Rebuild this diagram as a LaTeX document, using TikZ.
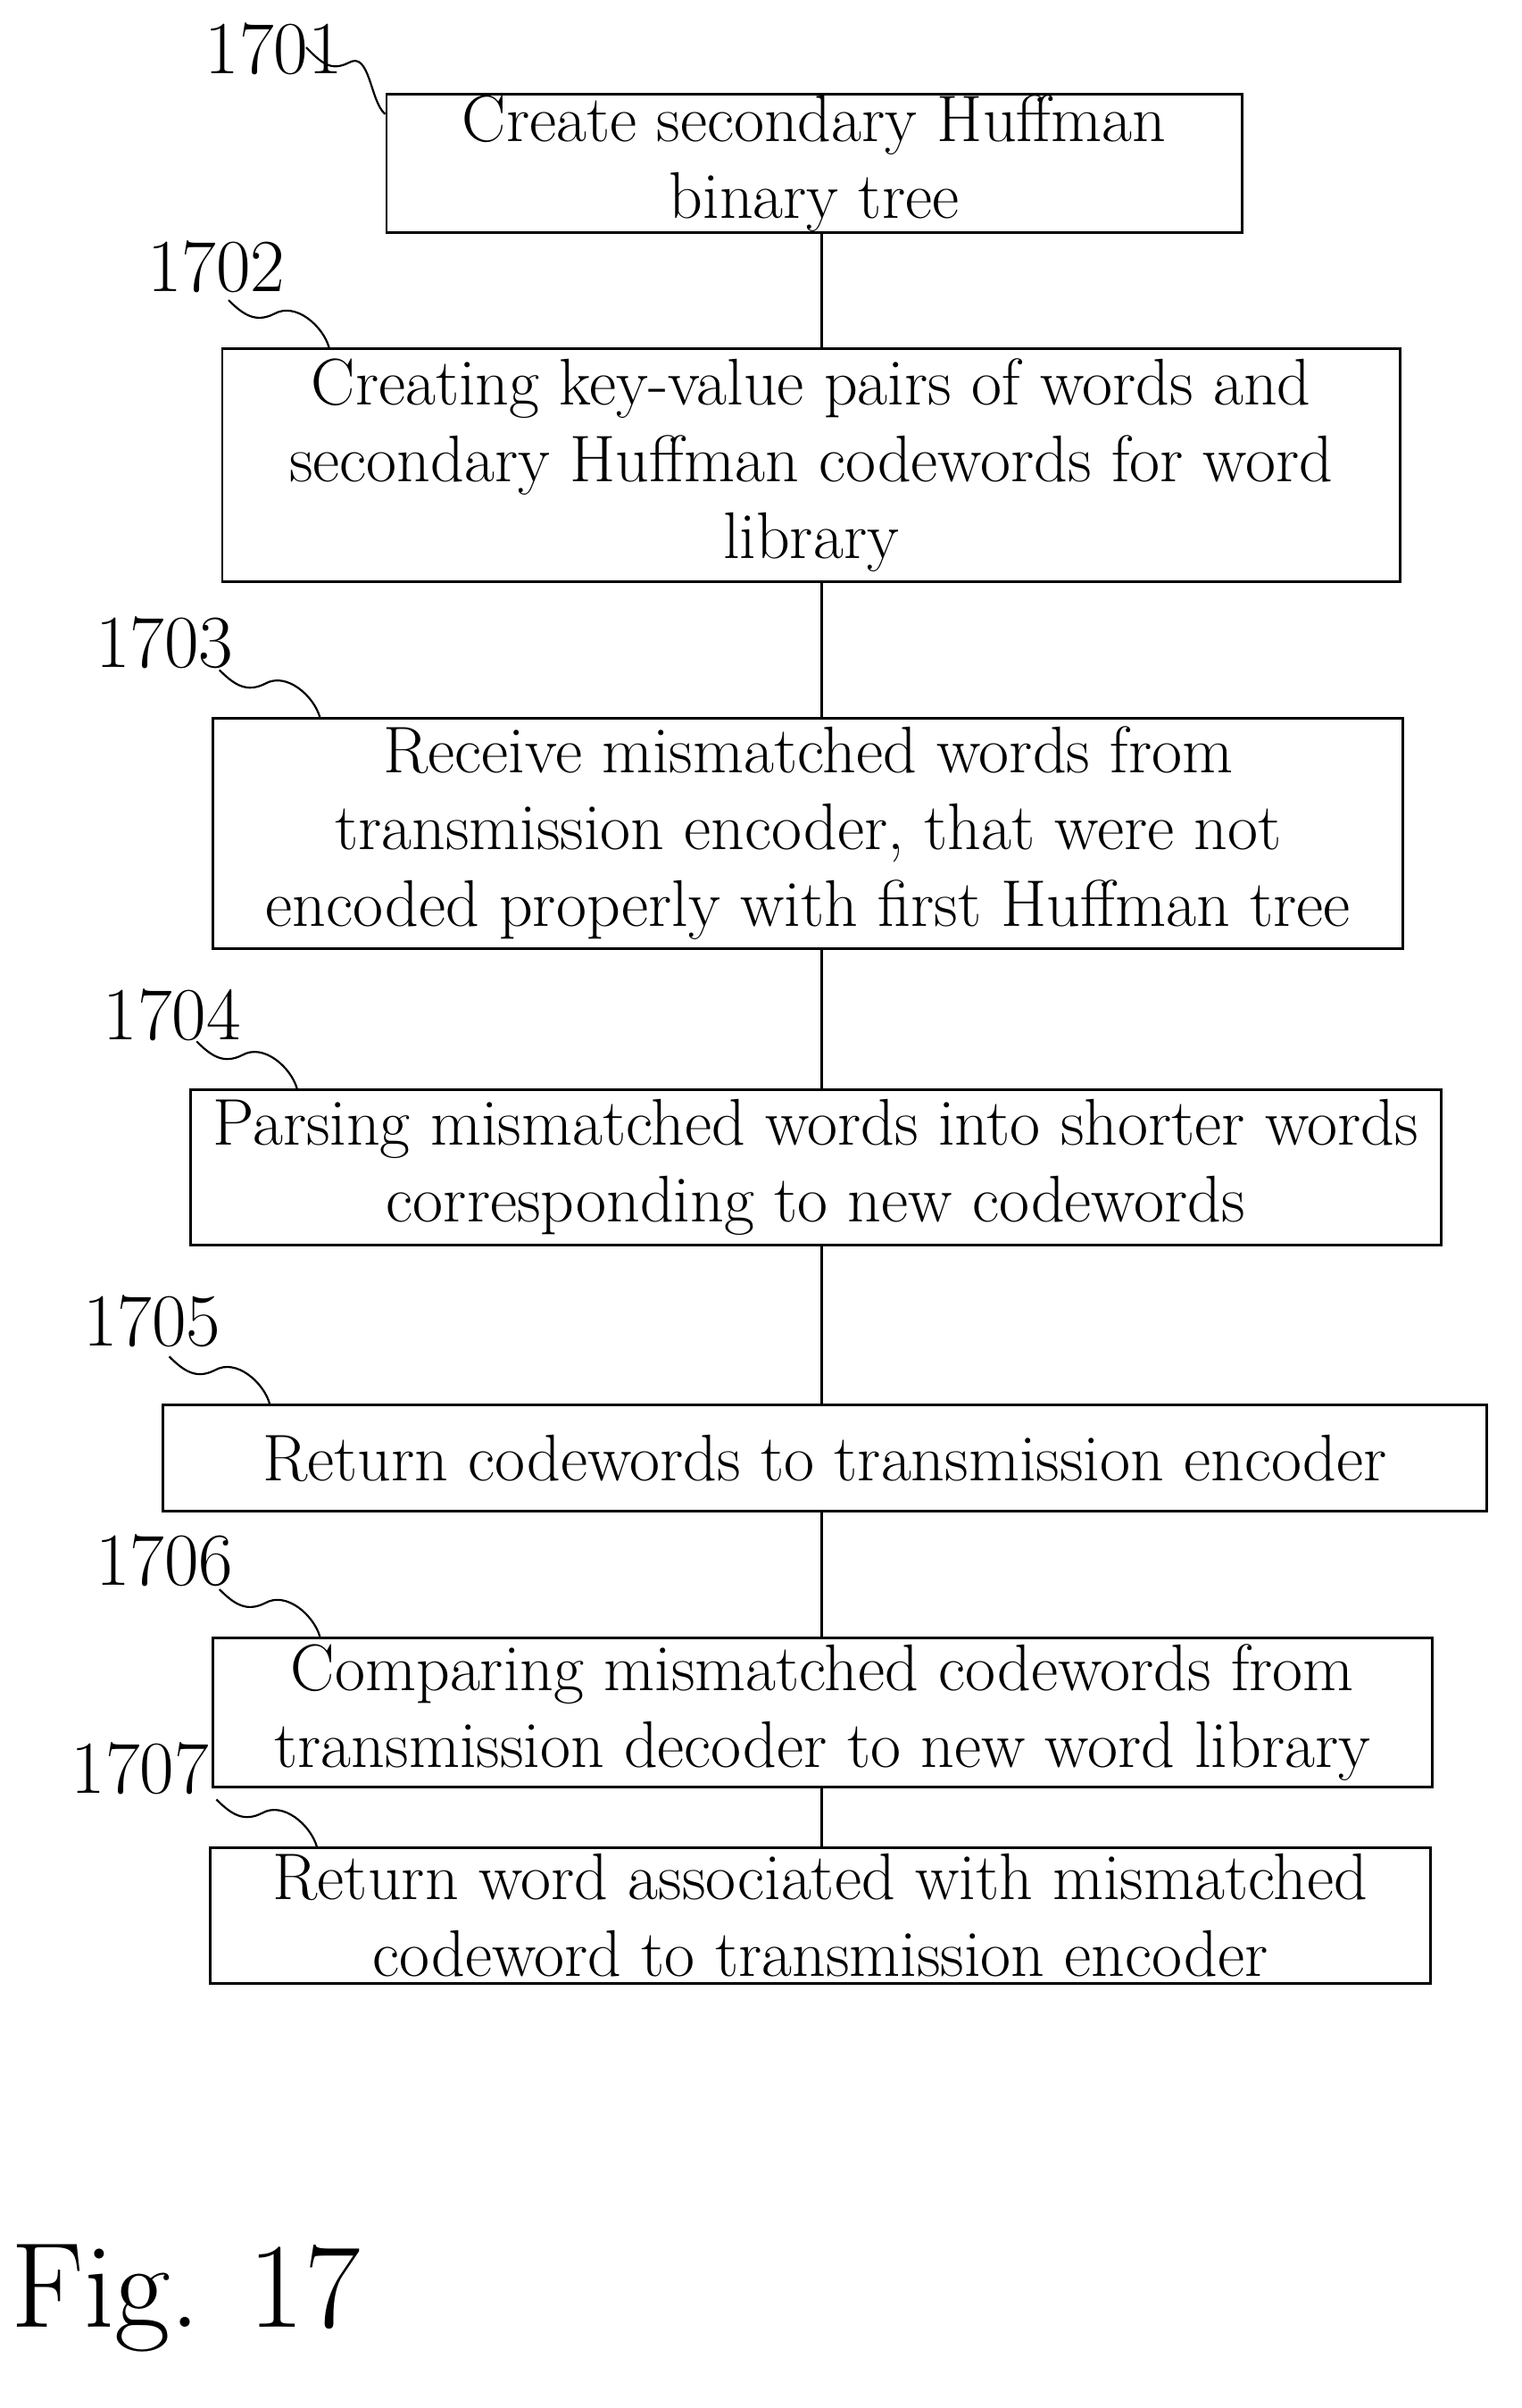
\documentclass[tikz,border=0pt]{standalone}
\usetikzlibrary{calc}
\begin{document}
\begin{tikzpicture}[x=0.03cm,y=-0.03cm]
    \tikzstyle{stepbox}=[draw,line width=1.4pt,align=center,inner sep=0pt,font=\fontsize{37}{43}\selectfont]
    \tikzstyle{numlabel}=[font=\fontsize{42}{44}\selectfont]
    \tikzstyle{squig}=[line width=1.1pt]
    \useasboundingbox (0,0) rectangle (1000,1582);

    \node[stepbox,minimum width=562*0.03cm,minimum height=91*0.03cm] (s1) at (535,107.5) {Create secondary Huffman\\binary tree};
    \node[stepbox,minimum width=774*0.03cm,minimum height=153*0.03cm] (s2) at (533,305.5) {Creating key-value pairs of words and\\secondary Huffman codewords for word\\library};
    \node[stepbox,minimum width=782*0.03cm,minimum height=151*0.03cm] (s3) at (531,547.5) {Receive mismatched words from\\transmission encoder, that were not\\encoded properly with first Huffman tree};
    \node[stepbox,minimum width=822*0.03cm,minimum height=102*0.03cm] (s4) at (536,767) {Parsing mismatched words into shorter words\\corresponding to new codewords};
    \node[stepbox,minimum width=870*0.03cm,minimum height=70*0.03cm] (s5) at (542,958) {Return codewords to transmission encoder};
    \node[stepbox,minimum width=801*0.03cm,minimum height=98*0.03cm] (s6) at (540.5,1125) {Comparing mismatched codewords from\\transmission decoder to new word library};
    \node[stepbox,minimum width=802*0.03cm,minimum height=89*0.03cm] (s7) at (539,1258.5) {Return word associated with mismatched\\codeword to transmission encoder};

    % connectors
    \foreach \a/\b in {s1/s2,s2/s3,s3/s4,s4/s5,s5/s6,s6/s7}
        \draw[line width=1.4pt] (\a.south -| 540,0) -- (\b.north -| 540,0);

    % reference numerals
    \node[numlabel] (n1) at (180,32) {1701};
    \node[numlabel] (n2) at (142,175) {1702};
    \node[numlabel] (n3) at (108,422) {1703};
    \node[numlabel] (n4) at (113,667) {1704};
    \node[numlabel] (n5) at (100,868) {1705};
    \node[numlabel] (n6) at (108,1025) {1706};
    \node[numlabel] (n7) at (92,1162) {1707};
    \foreach \n/\s in {n2/s2,n3/s3,n4/s4,n5/s5,n6/s6,n7/s7}
        \draw[squig] ($(\s.north west)+(5,-31)$) .. controls +(10,10) and +(-12,6) .. ($(\s.north west)+(35,-22)$) .. controls +(14,-8) and +(-4,-14) .. ($(\s.north west)+(71,0)$);
    \draw[squig] ($(s1.north west)+(-52,-30)$) .. controls +(10,10) and +(-12,6) .. ($(s1.north west)+(-24,-20)$) .. controls +(14,-8) and +(-10,-8) .. (s1.west |- 0,75);

    \node[font=\fontsize{68}{70}\selectfont] (fig) at (122,1510) {Fig. 17};
\end{tikzpicture}
\end{document}
